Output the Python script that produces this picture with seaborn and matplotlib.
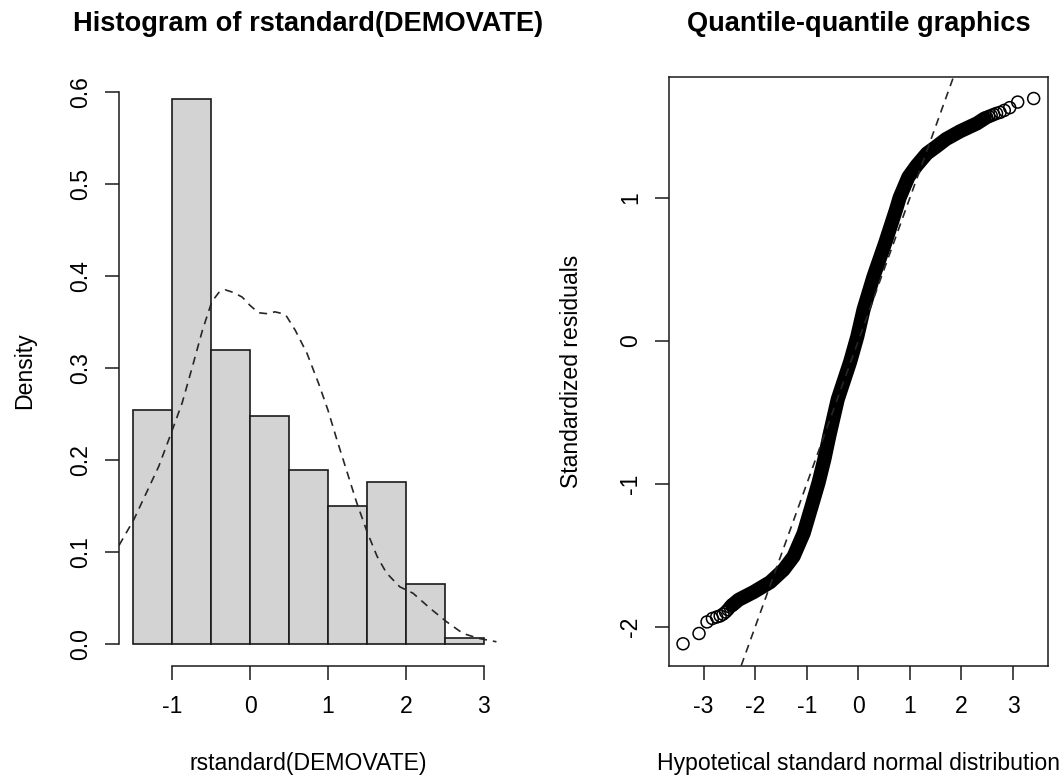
import matplotlib
matplotlib.use("Agg")
import matplotlib.pyplot as plt
import numpy as np
import seaborn as sns

# ---- Histogram of the standardized residuals ----
bin_edges = [-1.5, -1.0, -0.5, 0.0, 0.5, 1.0, 1.5, 2.0, 2.5, 3.0]
bin_density = [0.254, 0.593, 0.319, 0.248, 0.189, 0.150, 0.176, 0.065, 0.0065]

# kernel density estimate drawn over the histogram
kde_x = [-1.68, -1.49, -1.17, -1.02, -0.87, -0.74, -0.61, -0.49, -0.40, -0.32,
         -0.21, -0.10, 0.00, 0.11, 0.22, 0.32, 0.42, 0.47, 0.58, 0.73,
         0.88, 1.00, 1.11, 1.24, 1.37, 1.50, 1.63, 1.75, 1.92, 2.09,
         2.31, 2.52, 2.73, 2.93, 3.16]
kde_y = [0.107, 0.135, 0.193, 0.227, 0.262, 0.301, 0.341, 0.372, 0.382, 0.385,
         0.382, 0.377, 0.368, 0.360, 0.359, 0.361, 0.359, 0.356, 0.341, 0.316,
         0.283, 0.254, 0.223, 0.188, 0.153, 0.122, 0.095, 0.077, 0.062, 0.055,
         0.0385, 0.024, 0.0113, 0.0059, 0.0022]

hist_xticks = [-1, 0, 1, 2, 3]
hist_yticks = [0.0, 0.1, 0.2, 0.3, 0.4, 0.5, 0.6]

# ---- Normal Q-Q plot of the standardized residuals ----
# densely packed middle section of the sorted residuals
qq_band_theoretical = [-2.45, -2.32, -2.03, -1.71, -1.45, -1.256, -1.06, -0.90,
                       -0.77, -0.66, -0.56, -0.40, -0.157, -0.02, 0.10, 0.295,
                       0.52, 0.73, 0.80, 0.97, 1.13, 1.33, 1.52, 1.70, 1.975,
                       2.30, 2.45]
qq_band_sample = [-1.850, -1.811, -1.757, -1.688, -1.601, -1.508, -1.345, -1.15,
                  -0.99, -0.83, -0.66, -0.41, -0.145, 0.03, 0.217, 0.45,
                  0.683, 0.916, 1.00, 1.145, 1.225, 1.31, 1.36, 1.41, 1.465,
                  1.52, 1.555]
# individual observations in the tails
qq_tail_theoretical = [-3.40, -3.09, -2.935, -2.83, -2.748, -2.68, -2.625, -2.576,
                       -2.53, -2.49, -2.45,
                       2.49, 2.53, 2.576, 2.625, 2.68, 2.748, 2.83, 2.935, 3.09, 3.40]
qq_tail_sample = [-2.119, -2.047, -1.966, -1.942, -1.932, -1.924, -1.912, -1.897,
                  -1.880, -1.862, -1.848,
                  1.562, 1.568, 1.575, 1.582, 1.590, 1.597, 1.611, 1.630, 1.669, 1.694]
qq_line_intercept = 0.0
qq_line_slope = 1.0

qq_xticks = [-3, -2, -1, 0, 1, 2, 3]
qq_yticks = [-2, -1, 0, 1]

# ---- style ----
sns.set_theme(style="white")
plt.rcParams["font.family"] = ["Liberation Sans", "DejaVu Sans"]
plt.rcParams["axes.unicode_minus"] = False
plt.rcParams["text.color"] = "black"
plt.rcParams["axes.labelcolor"] = "black"
plt.rcParams["xtick.color"] = "black"
plt.rcParams["ytick.color"] = "black"

LABEL_SIZE = 16.6
TITLE_SIZE = 19.6
INK = "#1a1a1a"

W, H = 1064, 780
fig = plt.figure(figsize=(W / 100, H / 100), dpi=100)
bottom = 1 - 665.6 / H
height = 588.9 / H
ax1 = fig.add_axes([119 / W, bottom, 379 / W, height])
ax2 = fig.add_axes([669 / W, bottom, 378.7 / W, height])


def expand(lo, hi, frac=0.04):
    span = hi - lo
    return lo - frac * span, hi + frac * span


def style_ticks(ax, xticks, yticks, yfmt):
    ax.set_xticks(xticks, [f"{t:g}" for t in xticks])
    ax.set_yticks(yticks, [yfmt(t) for t in yticks], rotation=90, va="center")
    ax.tick_params(axis="both", direction="out", length=10, width=1.1,
                   labelsize=LABEL_SIZE, colors=INK, labelcolor="black")
    ax.tick_params(axis="x", pad=11.3, bottom=True)
    ax.tick_params(axis="y", pad=9.2, left=True)


# ---- left panel: histogram with density curve ----
centers = [(a + b) / 2 for a, b in zip(bin_edges[:-1], bin_edges[1:])]
sns.histplot(x=centers, weights=bin_density, bins=bin_edges, stat="count",
             color="#d3d3d3", alpha=1.0, edgecolor=INK, linewidth=1.2, ax=ax1)
sns.lineplot(x=kde_x, y=kde_y, color="#262626", linewidth=1.2,
             estimator=None, sort=False, ax=ax1)
ax1.lines[-1].set_dashes([4.8, 3.6])

ax1.set_xlim(*expand(bin_edges[0], bin_edges[-1]))
ax1.set_ylim(*expand(0, max(bin_density)))
for side in ("top", "right"):
    ax1.spines[side].set_visible(False)
for side in ("left", "bottom"):
    ax1.spines[side].set_color(INK)
    ax1.spines[side].set_linewidth(1.1)
ax1.spines["left"].set_bounds(hist_yticks[0], hist_yticks[-1])
ax1.spines["bottom"].set_bounds(hist_xticks[0], hist_xticks[-1])
style_ticks(ax1, hist_xticks, hist_yticks, lambda t: f"{t:.1f}")

ax1.set_xlabel("rstandard(DEMOVATE)", fontsize=LABEL_SIZE)
ax1.set_ylabel("Density", fontsize=LABEL_SIZE)
ax1.xaxis.set_label_coords(0.5, -0.167)
ax1.xaxis.label.set_va("center")
ax1.yaxis.set_label_coords((25 - 119) / 379, 0.5)
ax1.yaxis.label.set_va("center")
ax1.set_title("Histogram of rstandard(DEMOVATE)", fontsize=TITLE_SIZE,
              fontweight="bold", pad=33)

# ---- right panel: normal Q-Q plot ----
sns.lineplot(x=qq_band_theoretical, y=qq_band_sample, color="black",
             linewidth=10.2, estimator=None, sort=False, ax=ax2,
             solid_capstyle="round", solid_joinstyle="round")
sns.scatterplot(x=qq_tail_theoretical, y=qq_tail_sample, marker="o", s=74,
                edgecolor="black", linewidth=1.1, ax=ax2)
ax2.collections[-1].set_facecolor("none")
ref = ax2.axline((0, qq_line_intercept), slope=qq_line_slope,
                 color="#262626", linewidth=1.2)
ref.set_dashes([4.8, 3.6])

all_x = qq_tail_theoretical + qq_band_theoretical
all_y = qq_tail_sample + qq_band_sample
ax2.set_xlim(*expand(min(all_x), max(all_x)))
ax2.set_ylim(*expand(min(all_y), max(all_y)))
for side in ax2.spines.values():
    side.set_visible(True)
    side.set_color(INK)
    side.set_linewidth(1.1)
style_ticks(ax2, qq_xticks, qq_yticks, lambda t: f"{t:g}")

ax2.set_xlabel("Hypotetical standard normal distribution", fontsize=LABEL_SIZE)
ax2.set_ylabel("Standardized residuals", fontsize=LABEL_SIZE)
ax2.xaxis.set_label_coords(0.5, -0.167)
ax2.xaxis.label.set_va("center")
ax2.yaxis.set_label_coords((572 - 669) / 378.7, 0.5)
ax2.yaxis.label.set_va("center")
ax2.set_title("Quantile-quantile graphics", fontsize=TITLE_SIZE,
              fontweight="bold", pad=33)

fig.savefig("out.png", dpi=100, facecolor="white")
